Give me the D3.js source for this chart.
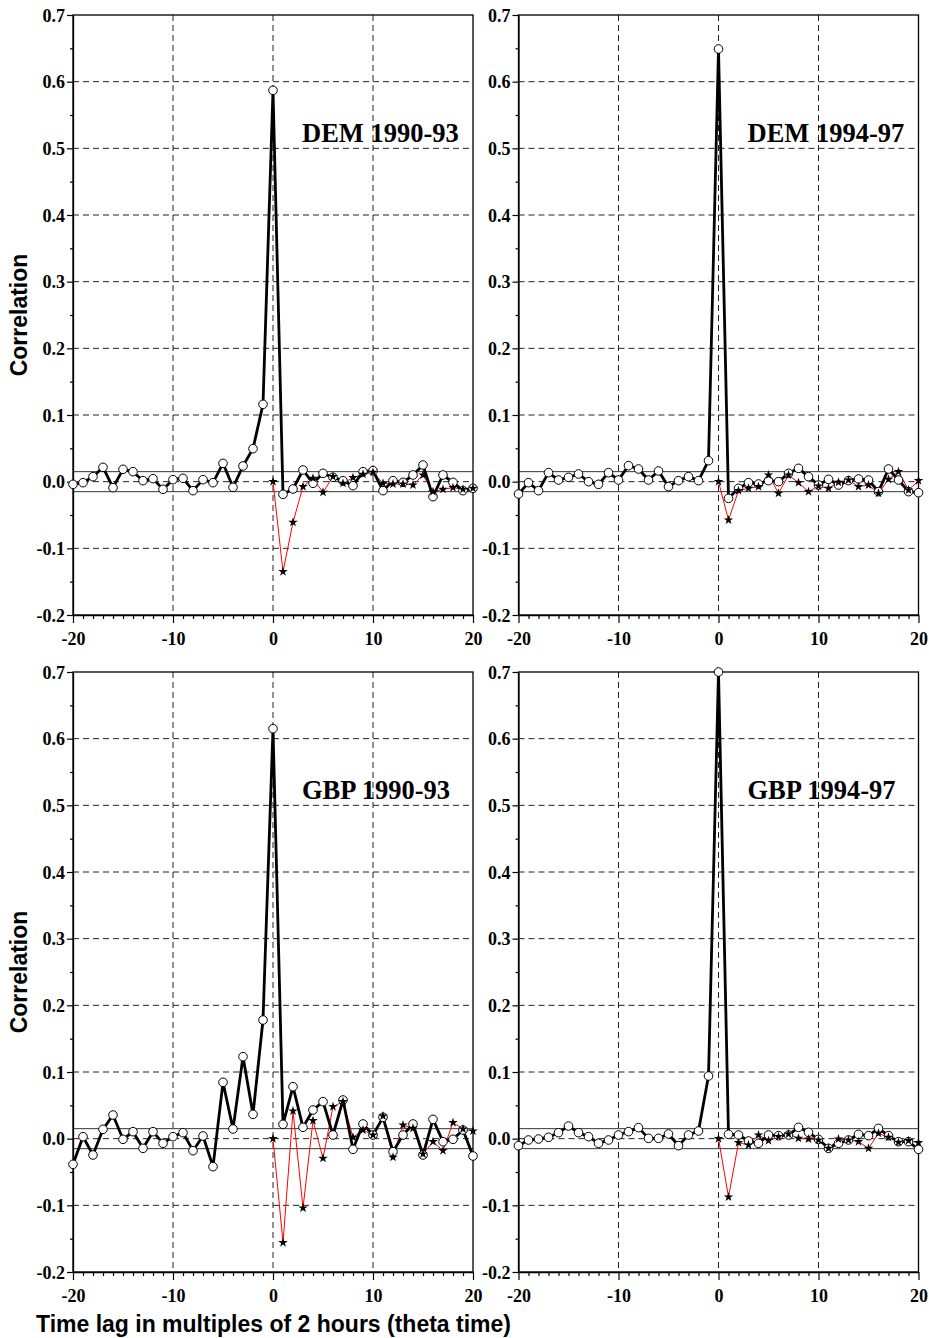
<!DOCTYPE html>
<html>
<head>
<meta charset="utf-8">
<script src="https://cdn.jsdelivr.net/npm/d3@7"></script>
<style>
  body { margin: 0; background: #fff; }
</style>
</head>
<body>
<script>
// lags and tick values
var lags = d3.range(-20, 21);
var lagsPos = d3.range(0, 21);
var yTicks = [-0.2, -0.1, 0.0, 0.1, 0.2, 0.3, 0.4, 0.5, 0.6, 0.7];
var yMinor = [-0.15, -0.05, 0.05, 0.15, 0.25, 0.35, 0.45, 0.55, 0.65];
var xTicks = [-20, -10, 0, 10, 20];
var band = 0.015;

// circles (black), lag -20..20
var dem9093 = [-0.004, -0.0015, 0.0075, 0.0215, -0.009, 0.0185, 0.015, 0.0015, 0.0045, -0.0115,
  0.003, 0.005, -0.0135, 0.003, -0.0015, 0.0275, -0.0085, 0.0235, 0.0495, 0.116,
  0.587,
  -0.019, -0.011, 0.0175, -0.0025, 0.0125, 0.0065, 0.0015, -0.006, 0.015, 0.0165,
  -0.0135, 0.0015, -0.001, 0.01, 0.025, -0.0225, 0.01, -0.001, -0.0135, -0.01];
// stars (red), lag 0..20
var dem9093b = [0, -0.135, -0.061, -0.0075, 0.005, -0.016, 0.0075, -0.0025, 0.006, 0.011, 0.014,
  -0.0025, -0.0035, -0.0035, -0.005, 0.01, -0.015, -0.0115, -0.009, -0.0115, -0.01];

var dem9497 = [-0.0185, -0.0015, -0.0135, 0.0135, 0.0025, 0.0065, 0.0115, 0, -0.004, 0.0135,
  0.0025, 0.024, 0.019, 0.0025, 0.016, -0.0075, 0.0015, 0.0075, 0.0015, 0.0315,
  0.649,
  -0.025, -0.01, -0.0015, -0.0035, 0.0015, 0, 0.0125, 0.02, 0.0075, -0.005,
  0.0035, -0.005, 0.0015, 0.004, 0.0025, -0.015, 0.019, 0.0025, -0.015, -0.0165];
var dem9497b = [0, -0.0575, -0.0135, -0.01, -0.0075, 0.01, -0.0175, 0.01, -0.0015, -0.015, -0.0065,
  -0.01, -0.001, 0.0025, -0.0075, -0.005, -0.0175, 0.0035, 0.015, -0.0125, 0.0015];

var gbp9093 = [-0.0385, 0.003, -0.0245, 0.014, 0.0355, -0.001, 0.0105, -0.0145, 0.0105, -0.007,
  0.003, 0.009, -0.018, 0.004, -0.042, 0.0845, 0.0145, 0.123, 0.0365, 0.178,
  0.615,
  0.0215, 0.078, 0.017, 0.043, 0.0555, 0.0055, 0.058, -0.016, 0.022, 0.0055,
  0.032, -0.0195, 0.0055, 0.022, -0.0245, 0.029, -0.0045, -0.001, 0.013, -0.026];
var gbp9093b = [0, -0.156, 0.0415, -0.104, 0.027, -0.0295, 0.048, 0.0555, 0.002, 0.013, 0.0055,
  0.034, -0.028, 0.0205, 0.0155, -0.023, -0.0045, -0.018, 0.024, 0.0145, 0.0115];

var gbp9497 = [-0.0105, -0.002, -0.0005, 0.002, 0.009, 0.019, 0.009, 0.003, -0.007, -0.002,
  0.0055, 0.0105, 0.0165, 0.0005, 0.0005, 0.007, -0.0105, 0.0055, 0.0115, 0.094,
  0.700,
  0.0065, 0.0055, -0.0035, -0.007, 0.0055, 0.0045, 0.0055, 0.017, 0.0095, -0.001,
  -0.0145, -0.007, -0.002, 0.0065, 0.0045, 0.0155, 0.0045, -0.0045, -0.0045, -0.016];
var gbp9497b = [0, -0.0875, -0.006, -0.0095, 0.0055, -0.003, 0.003, 0.007, 0.0005, -0.0005, -0.002,
  -0.0145, -0.0005, -0.002, -0.0045, -0.0145, 0.008, 0.002, -0.0055, -0.003, -0.006];

var panels = [
  {title: "DEM 1990-93", a: dem9093, b: dem9093b, left: 73, top: 15, ylab: true},
  {title: "DEM 1994-97", a: dem9497, b: dem9497b, left: 518.5, top: 15, ylab: false},
  {title: "GBP 1990-93", a: gbp9093, b: gbp9093b, left: 73, top: 672, ylab: true},
  {title: "GBP 1994-97", a: gbp9497, b: gbp9497b, left: 518.5, top: 672, ylab: false}
];

var width = 400, height = 600;
var serif = "'Liberation Serif', 'Times New Roman', serif";
var sans = "'Liberation Sans', Arial, sans-serif";

var svg = d3.select("body").append("svg")
  .attr("width", 929)
  .attr("height", 1338);

var x = d3.scaleLinear().domain([-20, 20]).range([0, width]);
var y = d3.scaleLinear().domain([-0.2, 0.7]).range([height, 0]);

panels.forEach(function(p) {
  var g = svg.append("g").attr("transform", "translate(" + p.left + "," + p.top + ")");

  // dashed grid
  g.selectAll(".hgrid").data(yTicks.filter(function(d){ return d > -0.2 && d < 0.7; }))
    .enter().append("line")
    .attr("x1", 0).attr("x2", width)
    .attr("y1", function(d){ return y(d); }).attr("y2", function(d){ return y(d); })
    .attr("stroke", "#222").attr("stroke-width", 1).attr("stroke-dasharray", "6,4");
  g.selectAll(".vgrid").data([-10, 0, 10])
    .enter().append("line")
    .attr("y1", 0).attr("y2", height)
    .attr("x1", function(d){ return x(d); }).attr("x2", function(d){ return x(d); })
    .attr("stroke", "#222").attr("stroke-width", 1).attr("stroke-dasharray", "6,4");

  // significance band
  g.selectAll(".band").data([band, -band])
    .enter().append("line")
    .attr("x1", 0).attr("x2", width)
    .attr("y1", function(d){ return y(d); }).attr("y2", function(d){ return y(d); })
    .attr("stroke", "#333").attr("stroke-width", 1);

  // frame
  g.append("rect").attr("width", width).attr("height", height)
    .attr("fill", "none").attr("stroke", "#000").attr("stroke-width", 1.3);

  // axes
  var yAxis = g.append("g")
    .call(d3.axisLeft(y).tickValues(yTicks).tickSize(6).tickSizeOuter(0)
      .tickFormat(function(d){ return d.toFixed(1); }));
  g.append("g").call(d3.axisLeft(y).tickValues(yMinor).tickSize(3).tickFormat(""))
    .select(".domain").remove();
  var xAxis = g.append("g").attr("transform", "translate(0," + height + ")")
    .call(d3.axisBottom(x).tickValues(xTicks).tickSize(8).tickSizeOuter(0)
      .tickFormat(function(d){ return d; }));
  g.append("g").attr("transform", "translate(0," + height + ")")
    .call(d3.axisBottom(x).tickValues(d3.range(-19, 20).filter(function(d){ return d % 10 !== 0; }))
      .tickSize(4).tickFormat(""))
    .select(".domain").remove();

  g.selectAll(".domain").attr("stroke-width", 1.3);
  g.selectAll(".tick line").attr("stroke", "#000").attr("stroke-width", 1.2);
  yAxis.selectAll("text")
    .style("font-family", serif).style("font-weight", "bold").style("font-size", "18px")
    .attr("x", -8).attr("dy", "0.34em");
  xAxis.selectAll("text")
    .style("font-family", serif).style("font-weight", "bold").style("font-size", "18px")
    .attr("y", 30).attr("dy", 0);

  // red series (lag 0..20)
  var line = d3.line()
    .x(function(d){ return x(d[0]); })
    .y(function(d){ return y(d[1]); });
  var redPts = lagsPos.map(function(l, i){ return [l, p.b[i]]; });
  var blackPts = lags.map(function(l, i){ return [l, p.a[i]]; });

  g.append("path").datum(redPts).attr("d", line)
    .attr("fill", "none").attr("stroke", "#ff0000").attr("stroke-width", 1);
  g.append("path").datum(blackPts).attr("d", line)
    .attr("fill", "none").attr("stroke", "#000").attr("stroke-width", 2.8)
    .attr("stroke-linejoin", "round");

  g.selectAll(".pt").data(blackPts).enter().append("circle")
    .attr("cx", function(d){ return x(d[0]); })
    .attr("cy", function(d){ return y(d[1]); })
    .attr("r", 4.3)
    .attr("fill", "#fff").attr("stroke", "#000").attr("stroke-width", 1);

  g.selectAll(".star").data(redPts).enter().append("path")
    .attr("d", d3.symbol().type(d3.symbolStar).size(28))
    .attr("transform", function(d){ return "translate(" + x(d[0]) + "," + y(d[1]) + ")"; })
    .attr("fill", "#000");

  // title
  g.append("text")
    .attr("x", x(2.9)).attr("y", y(0.51))
    .style("font-family", serif).style("font-weight", "bold").style("font-size", "26.5px")
    .text(p.title);

  if (p.ylab) {
    g.append("text")
      .attr("transform", "translate(" + (-46) + "," + (height / 2) + ") rotate(-90)")
      .attr("text-anchor", "middle")
      .style("font-family", sans).style("font-weight", "bold").style("font-size", "23px")
      .text("Correlation");
  }
});

svg.append("text")
  .attr("x", 36).attr("y", 1332)
  .style("font-family", sans).style("font-weight", "bold").style("font-size", "23px")
  .text("Time lag in multiples of 2 hours (theta time)");
</script>
</body>
</html>
